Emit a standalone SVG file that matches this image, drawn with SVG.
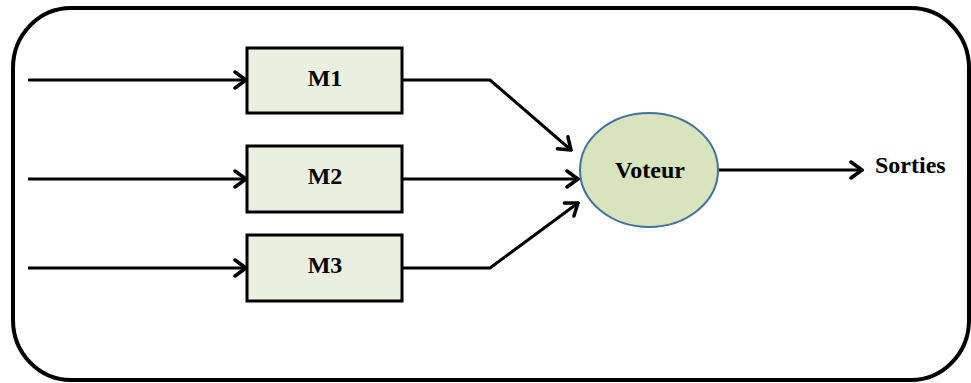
<svg xmlns="http://www.w3.org/2000/svg" width="971" height="383" viewBox="0 0 971 383">
<defs>
<style>
.frame{fill:#fff;stroke:#000;stroke-width:4}
.box{fill:#EBEFDF;stroke:#000;stroke-width:3}
.ell{fill:#D7E4BD;stroke:#41719C;stroke-width:2}
.lbl{font-family:"Liberation Serif","Times New Roman",serif;font-weight:bold;font-size:24px;fill:#000;text-anchor:middle}
.conn{fill:none;stroke:#000;stroke-width:3}
</style>
<marker id="arr" markerUnits="userSpaceOnUse" viewBox="0 0 16 20" refX="14" refY="10" markerWidth="16" markerHeight="20" orient="auto">
<path d="M3,2 L14,10 L3,18" fill="none" stroke="#000" stroke-width="3.5" stroke-linecap="round" stroke-linejoin="miter"/>
</marker>
</defs>
<rect class="frame" x="13" y="8" width="956" height="372" rx="58" ry="60"/>
<g id="connectors">
<line class="conn" x1="28" y1="80" x2="246" y2="80" marker-end="url(#arr)"/>
<line class="conn" x1="28" y1="179" x2="246" y2="179" marker-end="url(#arr)"/>
<line class="conn" x1="28" y1="268" x2="246" y2="268" marker-end="url(#arr)"/>
<polyline class="conn" points="402,80 490,80 571,150" marker-end="url(#arr)"/>
<line class="conn" x1="402" y1="179" x2="578" y2="179" marker-end="url(#arr)"/>
<polyline class="conn" points="402,268 490,268 578,203" marker-end="url(#arr)"/>
<line class="conn" x1="718" y1="170" x2="862" y2="170" marker-end="url(#arr)"/>
</g>
<g id="M1">
<rect class="box" x="247" y="48" width="155" height="65"/>
<text class="lbl" x="325" y="86">M1</text>
</g>
<g id="M2">
<rect class="box" x="247" y="146" width="155" height="66"/>
<text class="lbl" x="325" y="184">M2</text>
</g>
<g id="M3">
<rect class="box" x="247" y="235" width="155" height="66"/>
<text class="lbl" x="325" y="273">M3</text>
</g>
<g id="Voteur">
<ellipse class="ell" cx="649" cy="170" rx="69" ry="57"/>
<text class="lbl" x="650" y="178">Voteur</text>
</g>
<g id="Sorties">
<text class="lbl" x="875" y="173" style="text-anchor:start">Sorties</text>
</g>
</svg>
